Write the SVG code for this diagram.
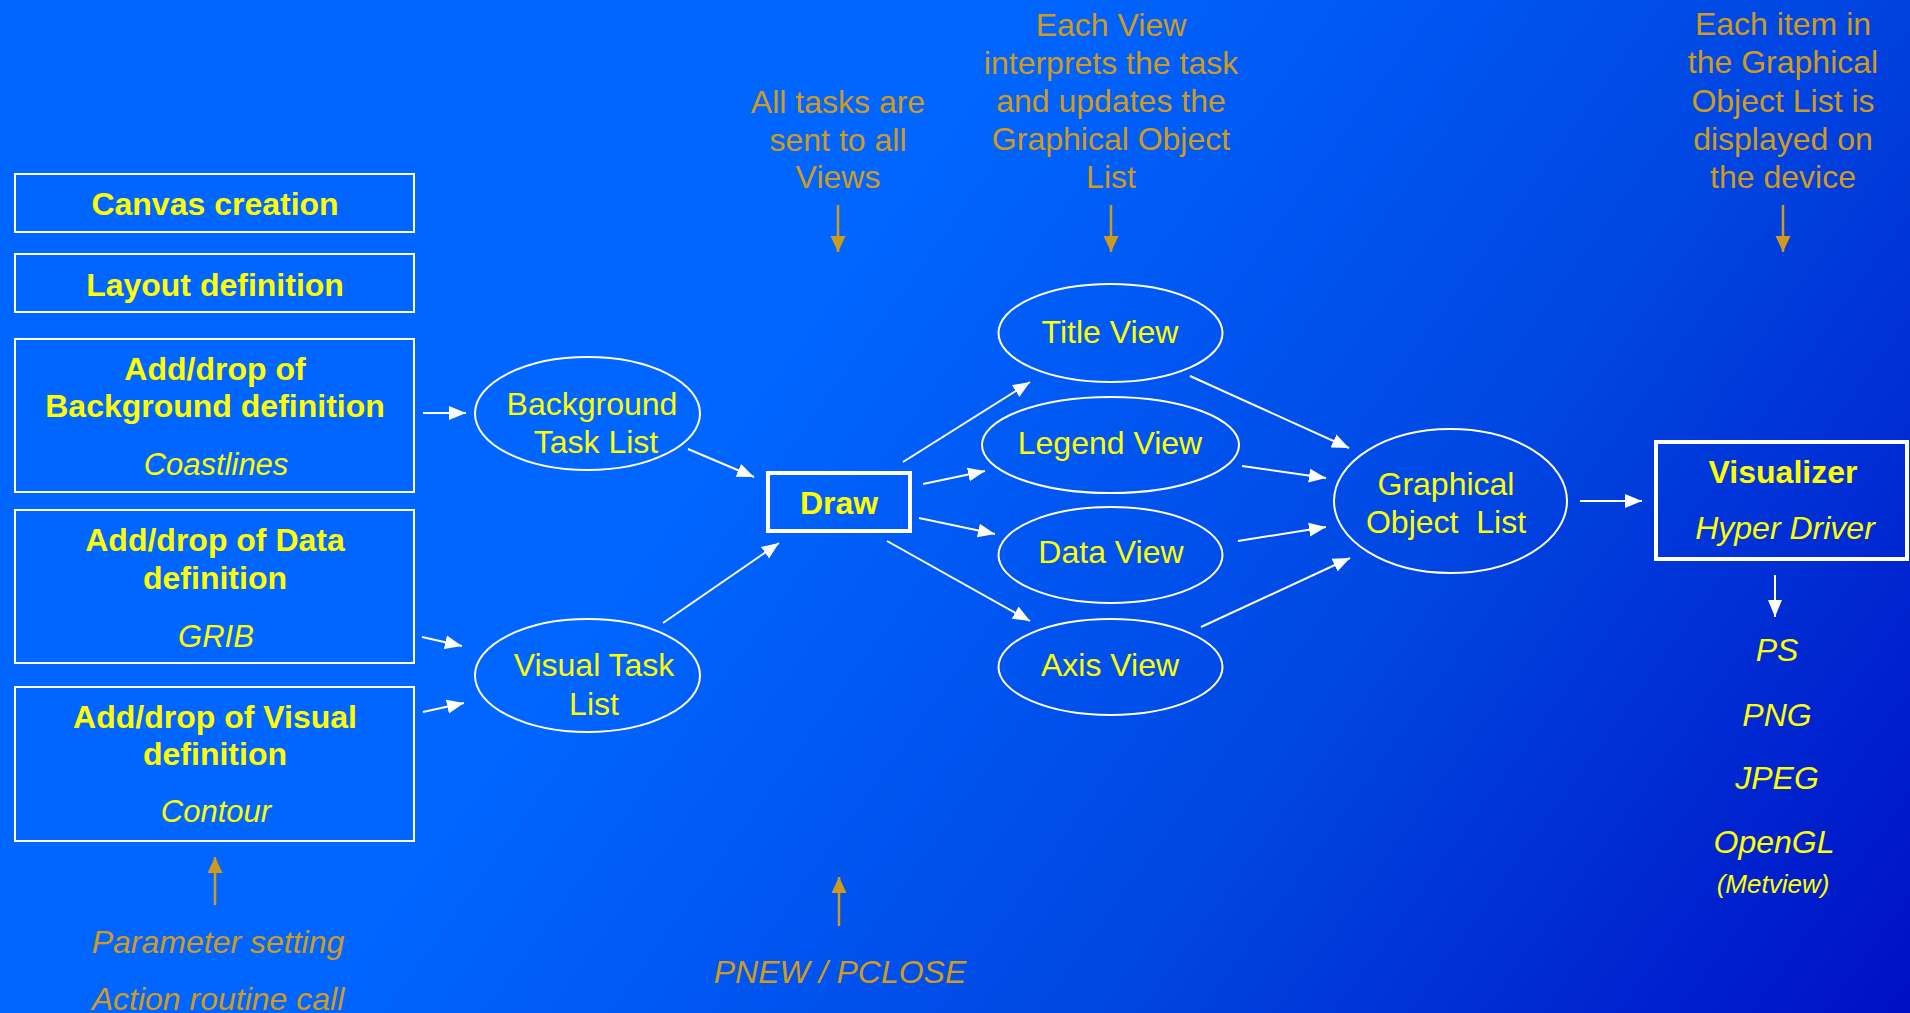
<svg xmlns="http://www.w3.org/2000/svg" width="1910" height="1013" viewBox="0 0 1910 1013">
<defs>
<linearGradient id="bg" gradientUnits="userSpaceOnUse" x1="850" y1="250" x2="1910" y2="1013">
<stop offset="0" stop-color="#0066ff"/>
<stop offset="0.5" stop-color="#0046e2"/>
<stop offset="1" stop-color="#0010c4"/>
</linearGradient>
<marker id="wa" markerUnits="userSpaceOnUse" markerWidth="18" markerHeight="16" refX="17" refY="8" orient="auto" viewBox="0 0 18 16">
<path d="M0,1 L17,8 L0,15 z" fill="#ffffff"/>
</marker>
<marker id="oa" markerUnits="userSpaceOnUse" markerWidth="16" markerHeight="16" refX="16" refY="8" orient="auto" viewBox="0 0 16 16">
<path d="M0,0.5 L16,8 L0,15.5 z" fill="#d09a1c"/>
</marker>
</defs>
<style>
.box{fill:none;stroke:#ffffff;stroke-width:2}
.tbox{fill:none;stroke:#ffffff;stroke-width:4}
.ell{fill:none;stroke:#ffffff;stroke-width:2}
.b{font-family:"Liberation Sans",Arial,sans-serif;font-weight:bold;font-size:32px;fill:#ffff00;text-anchor:middle}
.r{font-family:"Liberation Sans",Arial,sans-serif;font-size:32px;fill:#ffff00;text-anchor:middle}
.i{font-family:"Liberation Sans",Arial,sans-serif;font-style:italic;font-size:31px;fill:#ffff00;text-anchor:middle}
.o{font-family:"Liberation Sans",Arial,sans-serif;font-size:32px;fill:#d09a1c;text-anchor:middle}
.oi{font-family:"Liberation Sans",Arial,sans-serif;font-style:italic;font-size:32px;fill:#d09a1c;text-anchor:middle}
.w{stroke:#ffffff;stroke-width:2;fill:none;marker-end:url(#wa)}
.oc{stroke:#d09a1c;stroke-width:2.5;fill:none;marker-end:url(#oa)}
</style>
<rect x="0" y="0" width="1910" height="1013" fill="url(#bg)"/>

<g id="canvas-creation">
<rect class="box" x="15" y="174" width="399" height="58"/>
<text class="b" x="215" y="215">Canvas creation</text>
</g>
<g id="layout-definition">
<rect class="box" x="15" y="254" width="399" height="58"/>
<text class="b" x="215" y="296">Layout definition</text>
</g>
<g id="background-definition">
<rect class="box" x="15" y="339" width="399" height="153"/>
<text class="b" x="215" y="380">Add/drop of</text>
<text class="b" x="215" y="417">Background definition</text>
<text class="i" x="216" y="475">Coastlines</text>
</g>
<g id="data-definition">
<rect class="box" x="15" y="510" width="399" height="153"/>
<text class="b" x="215" y="551">Add/drop of Data</text>
<text class="b" x="215" y="589">definition</text>
<text class="i" x="216" y="647">GRIB</text>
</g>
<g id="visual-definition">
<rect class="box" x="15" y="687" width="399" height="154"/>
<text class="b" x="215" y="728">Add/drop of Visual</text>
<text class="b" x="215" y="765">definition</text>
<text class="i" x="216" y="822">Contour</text>
</g>

<g id="background-task-list">
<ellipse class="ell" cx="587.5" cy="413.5" rx="112.5" ry="56.5"/>
<text class="r" x="592" y="415">Background</text>
<text class="r" x="596" y="453">Task List</text>
</g>
<g id="visual-task-list">
<ellipse class="ell" cx="587.5" cy="675.5" rx="112.5" ry="56.5"/>
<text class="r" x="594" y="676">Visual Task</text>
<text class="r" x="594" y="715">List</text>
</g>
<g id="draw">
<rect class="tbox" x="768" y="473" width="142" height="58"/>
<text class="b" x="839" y="514">Draw</text>
</g>
<g id="title-view">
<ellipse class="ell" cx="1110.5" cy="333" rx="112" ry="49"/>
<text class="r" x="1110" y="343">Title View</text>
</g>
<g id="legend-view">
<ellipse class="ell" cx="1110.5" cy="445" rx="128.5" ry="48"/>
<text class="r" x="1110" y="454">Legend View</text>
</g>
<g id="data-view">
<ellipse class="ell" cx="1110.5" cy="555" rx="112" ry="48"/>
<text class="r" x="1111" y="563">Data View</text>
</g>
<g id="axis-view">
<ellipse class="ell" cx="1110.5" cy="667" rx="112" ry="48"/>
<text class="r" x="1110" y="676">Axis View</text>
</g>
<g id="graphical-object-list">
<ellipse class="ell" cx="1450.5" cy="501" rx="116.5" ry="72"/>
<text class="r" x="1446" y="495">Graphical</text>
<text class="r" x="1446" y="533" xml:space="preserve">Object  List</text>
</g>
<g id="visualizer">
<rect class="tbox" x="1656" y="442" width="251" height="117"/>
<text class="b" x="1783" y="483">Visualizer</text>
<text class="i" x="1785" y="539" style="font-size:32px">Hyper Driver</text>
</g>
<g id="outputs">
<text class="i" x="1777" y="661" style="font-size:32px">PS</text>
<text class="i" x="1777" y="726" style="font-size:32px">PNG</text>
<text class="i" x="1777" y="789" style="font-size:32px">JPEG</text>
<text class="i" x="1774" y="853" style="font-size:32px">OpenGL</text>
<text class="i" x="1773" y="893" style="font-size:26px">(Metview)</text>
</g>

<g id="note-all-tasks">
<text class="o" x="838" y="113">All tasks are</text>
<text class="o" x="838" y="151">sent to all</text>
<text class="o" x="838" y="188">Views</text>
</g>
<g id="note-each-view">
<text class="o" x="1111" y="36">Each View</text>
<text class="o" x="1111" y="74">interprets the task</text>
<text class="o" x="1111" y="112">and updates the</text>
<text class="o" x="1111" y="150">Graphical Object</text>
<text class="o" x="1111" y="188">List</text>
</g>
<g id="note-each-item">
<text class="o" x="1783" y="35">Each item in</text>
<text class="o" x="1783" y="73">the Graphical</text>
<text class="o" x="1783" y="112">Object List is</text>
<text class="o" x="1783" y="150">displayed on</text>
<text class="o" x="1783" y="188">the device</text>
</g>
<g id="note-parameter">
<text class="oi" x="218" y="953">Parameter setting</text>
<text class="oi" x="218" y="1010">Action routine call</text>
</g>
<g id="note-pnew">
<text class="oi" x="840" y="983">PNEW / PCLOSE</text>
</g>

<g id="connectors">
<line class="w" x1="423" y1="413" x2="466" y2="413"/>
<line class="w" x1="422" y1="637" x2="462" y2="646"/>
<line class="w" x1="423" y1="712" x2="464" y2="703"/>
<line class="w" x1="688" y1="449" x2="754" y2="477"/>
<line class="w" x1="663" y1="623" x2="779" y2="543"/>
<line class="w" x1="903" y1="462" x2="1030" y2="382"/>
<line class="w" x1="923" y1="484" x2="985" y2="471"/>
<line class="w" x1="919" y1="518" x2="995" y2="534"/>
<line class="w" x1="887" y1="541" x2="1030" y2="621"/>
<line class="w" x1="1190" y1="376" x2="1349" y2="448"/>
<line class="w" x1="1242" y1="466" x2="1326" y2="478"/>
<line class="w" x1="1238" y1="541" x2="1326" y2="527"/>
<line class="w" x1="1201" y1="627" x2="1350" y2="558"/>
<line class="w" x1="1580" y1="501" x2="1642" y2="501"/>
<line class="w" x1="1775" y1="575" x2="1775" y2="617"/>
<line class="oc" x1="838" y1="205" x2="838" y2="252"/>
<line class="oc" x1="1111" y1="205" x2="1111" y2="252"/>
<line class="oc" x1="1783" y1="205" x2="1783" y2="252"/>
<line class="oc" x1="215" y1="905" x2="215" y2="857"/>
<line class="oc" x1="839" y1="926" x2="839" y2="877"/>
</g>
</svg>
